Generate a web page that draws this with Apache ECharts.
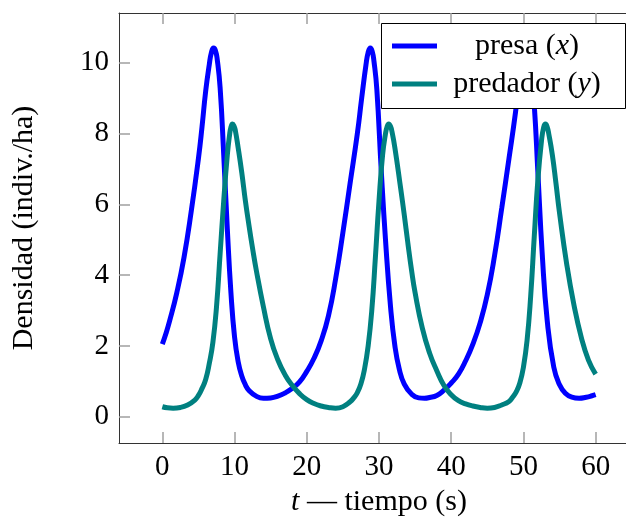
<!DOCTYPE html>
<html>
<head>
<meta charset="utf-8">
<script src="https://cdn.jsdelivr.net/npm/echarts@6/dist/echarts.min.js"></script>
<style>
  html, body { margin: 0; padding: 0; background: #fff; }
  #chart { width: 626px; height: 521px; }
</style>
</head>
<body>
<div id="chart"></div>
<script>
// presa (x): tiempo / densidad
var tPrey = [0, 0.5, 1, 2, 3, 4, 5, 5.5, 6, 6.5, 6.8, 7.1, 7.35, 7.6, 8, 8.5, 9, 9.5, 10, 10.5, 11, 11.5, 12,
  13, 14, 15, 16, 17, 18, 19, 20, 21, 22, 23, 24, 25, 26, 27, 27.6, 28.2, 28.5, 28.8, 29.05, 29.3, 29.7,
  30.3, 30.9, 31.6, 32.2, 32.8, 33.5, 34.5, 35.5, 36.3, 37, 38, 39, 40, 41, 42, 43, 44, 45, 46, 47,
  48, 48.9, 49.6, 50, 50.45, 50.75, 51, 51.5, 52, 52.6, 53.3, 54.2, 55, 55.8, 56.7, 57.7, 58.7, 59.5, 60];
var prey = [2.05, 2.35, 2.7, 3.5, 4.5, 5.8, 7.3, 8.2, 9.2, 9.95, 10.3, 10.42, 10.35, 10.1, 9.3, 7.4, 5.3, 3.5, 2.25, 1.55, 1.15, 0.9, 0.74,
  0.58, 0.52, 0.53, 0.58, 0.67, 0.8, 0.98, 1.28, 1.65, 2.15, 2.85, 3.9, 5.2, 6.6, 8.0, 9.0, 9.95, 10.3, 10.42, 10.33, 10.05, 9.25,
  7.0, 5.0, 3.1, 2.0, 1.35, 0.92, 0.64, 0.53, 0.52, 0.54, 0.6, 0.75, 0.95, 1.2, 1.58, 2.05, 2.65, 3.45, 4.55, 5.9,
  7.3, 8.6, 9.8, 10.25, 10.42, 10.3, 9.95, 8.8, 6.9, 4.6, 2.7, 1.4, 0.9, 0.66, 0.55, 0.52, 0.55, 0.59, 0.62];

// predador (y)
var tPred = [0, 0.7, 1.5, 2.5, 3.5, 4.5, 5, 5.5, 6, 6.5, 7, 7.5, 8, 8.5, 9, 9.3, 9.5, 9.72, 9.95, 10.1, 10.5, 11, 11.5,
  12, 12.5, 13, 14, 15, 16, 17, 18, 19, 20, 21, 22, 23, 24, 25, 26, 26.5, 27, 27.5, 28, 28.5,
  29, 29.5, 30, 30.5, 30.9, 31.1, 31.35, 31.6, 31.8, 32.2, 33, 33.5, 34, 34.5, 35, 36, 37, 38, 39, 40, 41, 42, 43,
  44, 45, 46, 47, 48, 48.5, 49, 49.5, 50, 50.5, 51, 51.5, 52, 52.5, 52.8, 53.05, 53.3, 53.5, 54, 54.5, 55, 56, 57,
  58, 59, 60];
var pred = [0.28, 0.25, 0.24, 0.26, 0.33, 0.47, 0.6, 0.8, 1.05, 1.5, 2.1, 3.1, 4.6, 6.1, 7.4, 7.95, 8.18, 8.27, 8.2, 8.1, 7.6, 6.9, 6.1,
  5.4, 4.75, 4.15, 3.1, 2.2, 1.6, 1.18, 0.88, 0.65, 0.48, 0.37, 0.3, 0.26, 0.24, 0.28, 0.42, 0.53, 0.68, 0.93, 1.35, 2.0,
  3.0, 4.5, 6.1, 7.4, 8.0, 8.18, 8.27, 8.2, 8.05, 7.6, 6.45, 5.7, 4.9, 4.15, 3.5, 2.5, 1.8, 1.3, 0.88, 0.62, 0.45, 0.36, 0.3,
  0.26, 0.24, 0.26, 0.33, 0.43, 0.55, 0.7, 0.95, 1.4, 2.15, 3.4, 5.1, 6.7, 7.8, 8.18, 8.27, 8.18, 8.0, 7.4, 6.6, 5.75, 4.3, 3.15,
  2.25, 1.6, 1.2];

var xTicks = [0, 10, 20, 30, 40, 50, 60];
var yTicks = [0, 2, 4, 6, 8, 10];

var fontFam = "Liberation Serif";
var fs = 29;      // etiquetas de los ejes
var fsName = 30;  // titulos y leyenda
var tickColor = "#a0a0a0";

function zip(a, b) {
  var out = [];
  for (var i = 0; i < a.length; i++) out.push([a[i], b[i]]);
  return out;
}

var chart = echarts.init(document.getElementById("chart"));

function xAx(pos, show) {
  return {
    type: "value",
    position: pos,
    min: -6,
    max: 66,
    axisLine: { show: true, onZero: false, lineStyle: { color: "#333", width: 1 } },
    axisTick: { show: true, inside: true, length: 11, customValues: xTicks, lineStyle: { color: tickColor, width: 1.5 } },
    axisLabel: { show: show, customValues: xTicks, margin: 10, color: "#000", fontSize: fs, fontFamily: fontFam },
    splitLine: { show: false }
  };
}
function yAx(pos, show) {
  return {
    type: "value",
    position: pos,
    min: -0.745,
    max: 11.41,
    axisLine: { show: true, onZero: false, lineStyle: { color: "#333", width: 1 } },
    axisTick: { show: true, inside: true, length: 11, customValues: yTicks, lineStyle: { color: tickColor, width: 1.5 } },
    axisLabel: { show: show, customValues: yTicks, margin: 10, color: "#000", fontSize: fs, fontFamily: fontFam },
    splitLine: { show: false }
  };
}

var xBottom = xAx("bottom", true);
xBottom.name = "{i|t} — tiempo (s)";
xBottom.nameLocation = "middle";
xBottom.nameGap = 41;
xBottom.nameTextStyle = {
  color: "#000", fontSize: fsName, fontFamily: fontFam,
  rich: { i: { fontStyle: "italic", fontSize: fsName, fontFamily: fontFam, color: "#000" } }
};
var yLeft = yAx("left", true);
yLeft.name = "Densidad (indiv./ha)";
yLeft.nameLocation = "middle";
yLeft.nameGap = 80;
yLeft.nameTextStyle = { color: "#000", fontSize: fsName, fontFamily: fontFam };

var richI = { i: { fontStyle: "italic", fontSize: fsName, fontFamily: fontFam, fill: "#000" } };

var option = {
  animation: false,
  backgroundColor: "#fff",
  grid: { left: 119, top: 13, width: 520, height: 430, outerBoundsMode: "none", containLabel: false },
  xAxis: [xBottom, xAx("top", false)],
  yAxis: [yLeft, yAx("right", false)],
  series: [
    {
      name: "presa",
      type: "line",
      data: zip(tPrey, prey),
      smooth: 0.5,
      showSymbol: false,
      z: 2,
      lineStyle: { color: "#0000ff", width: 5 },
      itemStyle: { color: "#0000ff" }
    },
    {
      name: "predador",
      type: "line",
      data: zip(tPred, pred),
      smooth: 0.5,
      showSymbol: false,
      z: 3,
      lineStyle: { color: "#008080", width: 5 },
      itemStyle: { color: "#008080" }
    }
  ],
  graphic: [
    { type: "rect", z: 100, zlevel: 1, shape: { x: 381.5, y: 23.5, width: 244, height: 85 },
      style: { fill: "#fff", stroke: "#000", lineWidth: 1 } },
    { type: "line", z: 101, zlevel: 1, shape: { x1: 392, y1: 46, x2: 437, y2: 46 },
      style: { stroke: "#0000ff", lineWidth: 5 } },
    { type: "line", z: 101, zlevel: 1, shape: { x1: 392, y1: 84, x2: 437, y2: 84 },
      style: { stroke: "#008080", lineWidth: 5 } },
    { type: "text", z: 101, zlevel: 1, x: 527, y: 46,
      style: { text: "presa ({i|x})", rich: richI, fontSize: fsName, fontFamily: fontFam, fill: "#000",
        align: "center", verticalAlign: "middle" } },
    { type: "text", z: 101, zlevel: 1, x: 527, y: 84,
      style: { text: "predador ({i|y})", rich: richI, fontSize: fsName, fontFamily: fontFam, fill: "#000",
        align: "center", verticalAlign: "middle" } }
  ]
};

chart.setOption(option);
</script>
</body>
</html>
